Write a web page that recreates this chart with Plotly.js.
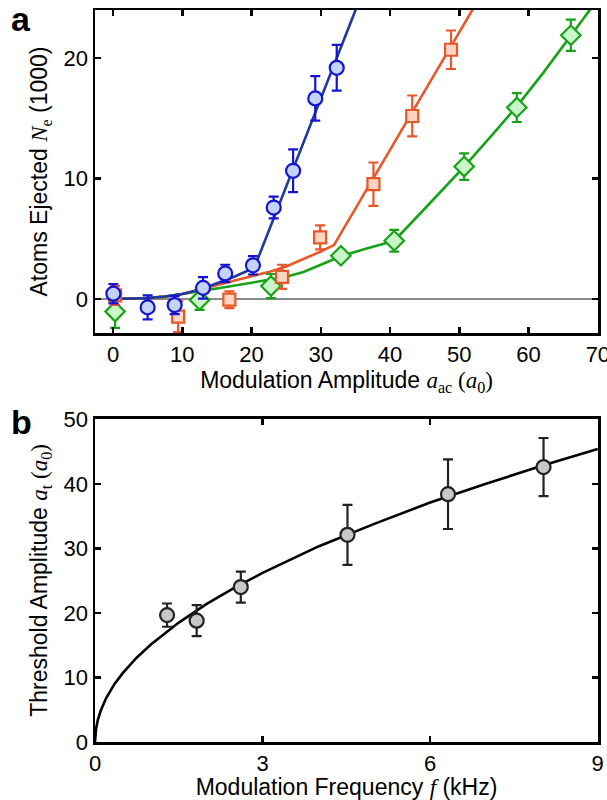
<!DOCTYPE html>
<html>
<head>
<meta charset="utf-8">
<script src="https://cdn.plot.ly/plotly-3.0.1.min.js"></script>
<style>html,body{margin:0;padding:0;background:#fff;}#chart{width:607px;height:800px;}</style>
</head>
<body>
<div id="chart"></div>
<script>
// ---------- Panel a: atoms ejected vs modulation amplitude ----------
const blueX = [0.05, 5.0, 8.9, 13.0, 16.2, 20.2, 23.2, 26.0, 29.2, 32.3];
const blueY = [0.45, -0.69, -0.5, 0.93, 2.13, 2.8, 7.6, 10.65, 16.66, 19.2];
const blueErr = [0.8, 1.0, 0.75, 0.9, 0.72, 0.76, 0.9, 1.77, 1.85, 1.9];

const orangeX = [0.3, 9.4, 16.8, 24.4, 29.9, 37.6, 43.2, 48.8];
const orangeY = [0.3, -1.45, -0.05, 1.85, 5.12, 9.54, 15.2, 20.7];
const orangeErr = [0.78, 1.3, 0.7, 1.0, 1.0, 1.8, 1.7, 1.6];

const greenX = [0.3, 12.5, 22.8, 32.9, 40.6, 50.7, 58.3, 66.1];
const greenY = [-1.04, -0.07, 1.08, 3.6, 4.84, 11.0, 15.9, 21.9];
const greenErr = [1.36, 0.83, 1.0, 0.4, 0.9, 1.1, 1.2, 1.3];

// fit curves
const blueFitX = [0, 2.5, 5, 7.5, 10, 12.5, 15, 17.5, 20.4, 35.5];
const blueFitY = [0, 0.02, 0.08, 0.22, 0.42, 0.78, 1.3, 1.85, 2.6, 24.7];
const orangeFitX = [0, 2.5, 5, 7.5, 10, 12.5, 15, 17.5, 20, 22.5, 25, 27.5, 30, 31.9, 52.5];
const orangeFitY = [0, 0.02, 0.08, 0.2, 0.42, 0.8, 1.15, 1.5, 1.9, 2.25, 2.7, 3.3, 3.95, 4.48, 24.6];
const greenFitX = [0, 2.5, 5, 7.5, 10, 12.5, 15, 17.5, 20, 22.5, 25, 27.5, 30, 32.9, 36, 40.6, 45, 50.7, 55, 58.3, 62, 66.1, 70];
const greenFitY = [0, 0.02, 0.08, 0.2, 0.4, 0.65, 0.88, 1.1, 1.35, 1.6, 1.85, 2.25, 2.85, 3.55, 4.1, 4.84, 7.5, 11.0, 13.8, 16.0, 18.7, 21.9, 24.9];

// ---------- Panel b: threshold amplitude vs modulation frequency ----------
const freqX = [1.29, 1.82, 2.61, 4.52, 6.32, 8.03];
const threshY = [19.66, 18.8, 24.0, 32.1, 38.4, 42.6];
const threshErr = [1.8, 2.4, 2.4, 4.65, 5.4, 4.5];
const sqrtFitX = [0, 0.02, 0.05, 0.1, 0.2, 0.35, 0.5, 0.75, 1, 1.5, 2, 2.5, 3, 4, 5, 6, 7, 8, 9];
const sqrtFitY = [0, 2.1, 3.4, 4.8, 6.8, 9.0, 10.7, 13.1, 15.1, 18.5, 21.4, 23.9, 26.2, 30.3, 33.8, 37.1, 40.0, 42.8, 45.4];

const xTicksA = [0, 10, 20, 30, 40, 50, 60, 70];
const yTicksA = [0, 10, 20];
const xTicksB = [0, 3, 6, 9];
const yTicksB = [0, 10, 20, 30, 40, 50];

const C = {
  blueLine: '#1f3a9c', blueEdge: '#1414d2', blueFill: '#c4d4f6',
  orange: '#e8572a', orangeFill: '#fcd6c2',
  green: '#17a317', greenFill: '#c9f5c9',
  dark: '#222222', grayFill: '#c8c8c8'
};

function fit(x, y, color, xa, ya) {
  return {x: x, y: y, type: 'scatter', mode: 'lines', xaxis: xa, yaxis: ya,
    line: {color: color, width: 2.6}, hoverinfo: 'skip', showlegend: false};
}
function pts(x, y, err, symbol, size, edge, fill, xa, ya) {
  return {x: x, y: y, type: 'scatter', mode: 'markers', xaxis: xa, yaxis: ya,
    error_y: {type: 'data', array: err, visible: true, color: edge, thickness: 2.2, width: 5},
    marker: {symbol: symbol, size: size, color: fill, line: {color: edge, width: 2.2}},
    showlegend: false, cliponaxis: true};
}

const data = [
  fit(greenFitX, greenFitY, C.green, 'x', 'y'),
  fit(orangeFitX, orangeFitY, C.orange, 'x', 'y'),
  fit(blueFitX, blueFitY, C.blueLine, 'x', 'y'),
  pts(greenX, greenY, greenErr, 'diamond', 15, C.green, C.greenFill, 'x', 'y'),
  pts(orangeX, orangeY, orangeErr, 'square', 12, C.orange, C.orangeFill, 'x', 'y'),
  pts(blueX, blueY, blueErr, 'circle', 14, C.blueEdge, C.blueFill, 'x', 'y'),
  fit(sqrtFitX, sqrtFitY, '#000000', 'x2', 'y2'),
  pts(freqX, threshY, threshErr, 'circle', 14, C.dark, C.grayFill, 'x2', 'y2')
];

const font = 'Liberation Sans, Arial, Helvetica, sans-serif';
const serif = 'Liberation Serif, Times New Roman, serif';
const axBase = {
  showline: true, linecolor: '#000', linewidth: 2.5, mirror: 'ticks',
  ticks: 'inside', ticklen: 6, tickwidth: 2.5, tickcolor: '#000',
  showgrid: false, zeroline: false, tickfont: {family: font, size: 22, color: '#000'},
  ticklabeloverflow: 'allow', fixedrange: true
};
const m = (s) => '<span style="font-family:' + serif + '">' + s + '</span>';
const titleFont = {family: font, size: 23, color: '#000'};

const layout = {
  width: 607, height: 800,
  margin: {l: 95, r: 9, t: 10, b: 58},
  paper_bgcolor: '#fff', plot_bgcolor: '#fff',
  font: {family: font, color: '#000'},
  showlegend: false,
  xaxis: Object.assign({}, axBase, {
    domain: [0, 1], anchor: 'y', range: [-2.6, 70.02], tickvals: xTicksA,
    title: {text: 'Modulation Amplitude ' + m('<i>a</i><sub>ac</sub> (<i>a</i><sub>0</sub>)'),
      font: titleFont, standoff: 4}
  }),
  yaxis: Object.assign({}, axBase, {
    domain: [0.5587, 1], anchor: 'x', range: [-2.82, 24], tickvals: yTicksA,
    zeroline: true, zerolinecolor: '#8c8c8c', zerolinewidth: 2,
    title: {text: 'Atoms Ejected ' + m('<i>N</i><sub>e</sub>') + ' (1000)',
      font: titleFont, standoff: 10}
  }),
  xaxis2: Object.assign({}, axBase, {
    domain: [0, 1], anchor: 'y2', range: [0, 9.005], tickvals: xTicksB,
    title: {text: 'Modulation Frequency ' + m('<i>f</i>') + ' (kHz)',
      font: titleFont, standoff: 4}
  }),
  yaxis2: Object.assign({}, axBase, {
    domain: [0, 0.4413], anchor: 'x2', range: [0, 50.05], tickvals: yTicksB,
    title: {text: 'Threshold Amplitude ' + m('<i>a</i><sub>t</sub> (<i>a</i><sub>0</sub>)'),
      font: titleFont, standoff: 10}
  }),
  annotations: [
    {text: '<b>a</b>', xref: 'paper', yref: 'paper', x: -0.17, y: 1.016, xanchor: 'left', yanchor: 'top',
      showarrow: false, font: {family: font, size: 34, color: '#000'}},
    {text: '<b>b</b>', xref: 'paper', yref: 'paper', x: -0.17, y: 0.466, xanchor: 'left', yanchor: 'top',
      showarrow: false, font: {family: font, size: 34, color: '#000'}}
  ]
};

Plotly.newPlot('chart', data, layout, {displayModeBar: false, staticPlot: true});
</script>
</body>
</html>
